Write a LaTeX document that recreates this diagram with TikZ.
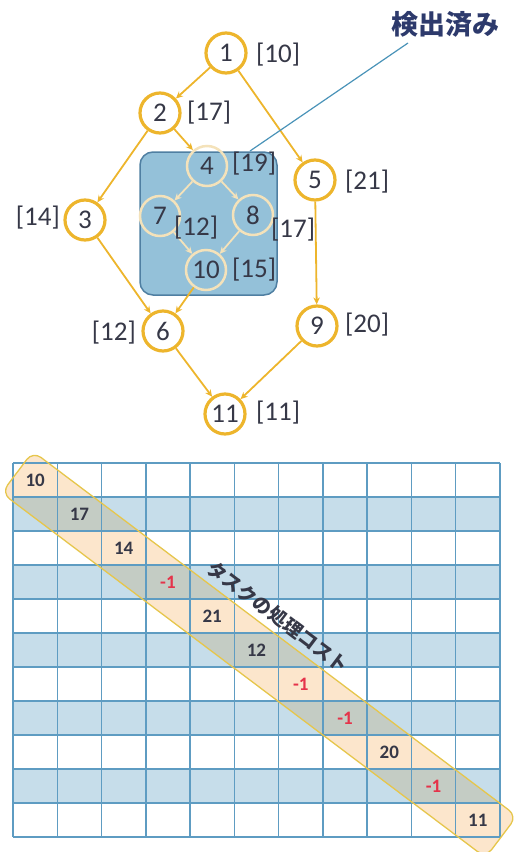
\documentclass[tikz,border=0pt]{standalone}
\usepackage{fontspec}
\setmainfont{Carlito}
\newfontfamily\cjk{Noto Sans CJK JP}
\usetikzlibrary{arrows.meta}
\definecolor{gold}{HTML}{EDB52C}
\definecolor{pale}{HTML}{F4E2BA}
\definecolor{ink}{HTML}{363847}
\definecolor{navy}{HTML}{2D3A6C}
\definecolor{boxfill}{HTML}{94C1D9}
\definecolor{boxline}{HTML}{4F7FA2}
\definecolor{leadc}{HTML}{4A93B8}
\definecolor{gridc}{HTML}{5E9CC2}
\definecolor{bluerow}{HTML}{C6DDEA}
\definecolor{peach}{HTML}{FCE6CC}
\definecolor{bandgray}{HTML}{C4CCC4}
\definecolor{bandedge}{HTML}{E6C64C}
\definecolor{redn}{HTML}{E5334A}
\tikzset{
  task/.style={circle, draw=gold, line width=3.2pt, minimum size=40pt, inner sep=0pt,
    font=\fontsize{27}{27}\selectfont, text=ink, fill=white},
  innertask/.style={task, draw=pale, line width=2.5pt, fill=none},
  lbl/.style={inner sep=0pt, font=\fontsize{27}{27}\selectfont, text=ink},
  edge/.style={draw=gold, line width=1.8pt, -{Stealth[length=7pt,width=6.5pt]}},
  iedge/.style={edge, draw=pale},
  gridline/.style={draw=gridc, line width=1.5pt},
  num/.style={inner sep=0pt, font=\bfseries\fontsize{19}{19}\selectfont},
  bandshape/.style={shift={(259.25,654.5)}, rotate=-37, rounded corners=10pt}
}
\begin{document}
\begin{tikzpicture}[x=1pt,y=-1pt]
\useasboundingbox (0,0) rectangle (517,852);

% ---------- graph ----------
\node[draw=boxline, fill=boxfill, rounded corners=13pt, line width=1.5pt,
      minimum width=137pt, minimum height=143pt] (grp) at (208.5,223.5) {};

\node[task] (n1) at (226,53) {1};
\node[task] (n2) at (160,113) {2};
\node[task] (n3) at (85,220) {3};
\node[task] (n5) at (315,180) {5};
\node[task] (n6) at (163,331) {6};
\node[task] (n9) at (317,326) {9};
\node[task] (n11) at (225,414) {11};
\node[innertask] (n4) at (207,166) {4};
\node[innertask] (n7) at (160,216) {7};
\node[innertask] (n8) at (253,215) {8};
\node[innertask] (n10) at (206,270) {10};

\draw[edge] (n1) -- (n2);
\draw[edge] (n1) -- (n5);
\draw[edge] (n2) -- (n3);
\draw[edge] (n2) -- (n4);
\draw[edge] (n3) -- (n6);
\draw[edge] (n10) -- (n6);
\draw[edge] (n5) -- (n9);
\draw[edge] (n6) -- (n11);
\draw[edge] (n9) -- (n11);
\draw[iedge] (n4) -- (n7);
\draw[iedge] (n4) -- (n8);
\draw[iedge] (n7) -- (n10);
\draw[iedge] (n8) -- (n10);

\node[lbl, anchor=west] (l1) at (256,55) {[10]};
\node[lbl, anchor=west] (l2) at (187,113) {[17]};
\node[lbl, anchor=west] (l4) at (232,164) {[19]};
\node[lbl, anchor=west] (l5) at (345,182) {[21]};
\node[lbl, anchor=east] (l3) at (60,218) {[14]};
\node[lbl, anchor=west] (l7) at (174,228) {[12]};
\node[lbl, anchor=west] (l8) at (271,230) {[17]};
\node[lbl, anchor=west] (l10) at (232,270) {[15]};
\node[lbl, anchor=east] (l6) at (136,333) {[12]};
\node[lbl, anchor=west] (l9) at (345,325) {[20]};
\node[lbl, anchor=west] (l11) at (256,413) {[11]};

\node[font=\cjk\bfseries\fontsize{27}{27}\selectfont, text=navy, inner sep=0pt] (title) at (445,24) {検出済み};
\coordinate (leadstart) at (250,151);
\coordinate (leadend) at (408,43);
\draw[leadc, line width=1.2pt] (leadstart) -- (leadend);

% ---------- table ----------
\foreach \r in {1,3,5,7,9}
  \fill[bluerow] (13,{463+34*\r}) rectangle (500,{463+34*\r+34});
\fill[peach, bandshape] (-303,-26) rectangle (303,26);
\begin{scope}
  \clip[bandshape] (-303,-26) rectangle (303,26);
  \foreach \r in {1,3,5,7,9}
    \fill[bandgray] (13,{463+34*\r}) rectangle (500,{463+34*\r+34});
\end{scope}
\foreach \c in {0,...,11}
  \draw[gridline] ({13+44.27*\c},463) -- ({13+44.27*\c},837);
\foreach \r in {0,2,3,...,11}
  \draw[gridline] (13,{463+34*\r}) -- (500,{463+34*\r});
\draw[gridc, line width=2.6pt] (13,497) -- (500,497);
\draw[bandedge, line width=1.3pt, bandshape] (-303,-26) rectangle (303,26);

\foreach \v [count=\i from 0] in {10,17,14,-1,21,12,-1,-1,20,-1,11}{
  \ifnum\v<0 \def\numcol{redn}\else\def\numcol{ink}\fi
  \node[num, text=\numcol] (c\i) at ({13+44.27*(\i+0.5)},{463+34*(\i+0.5)}) {\v};
}
\node[rotate=-37, inner sep=0pt, font=\cjk\bfseries\fontsize{19}{19}\selectfont, text=ink] (bandlbl) at (278,617) {タスクの処理コスト};
\end{tikzpicture}
\end{document}
